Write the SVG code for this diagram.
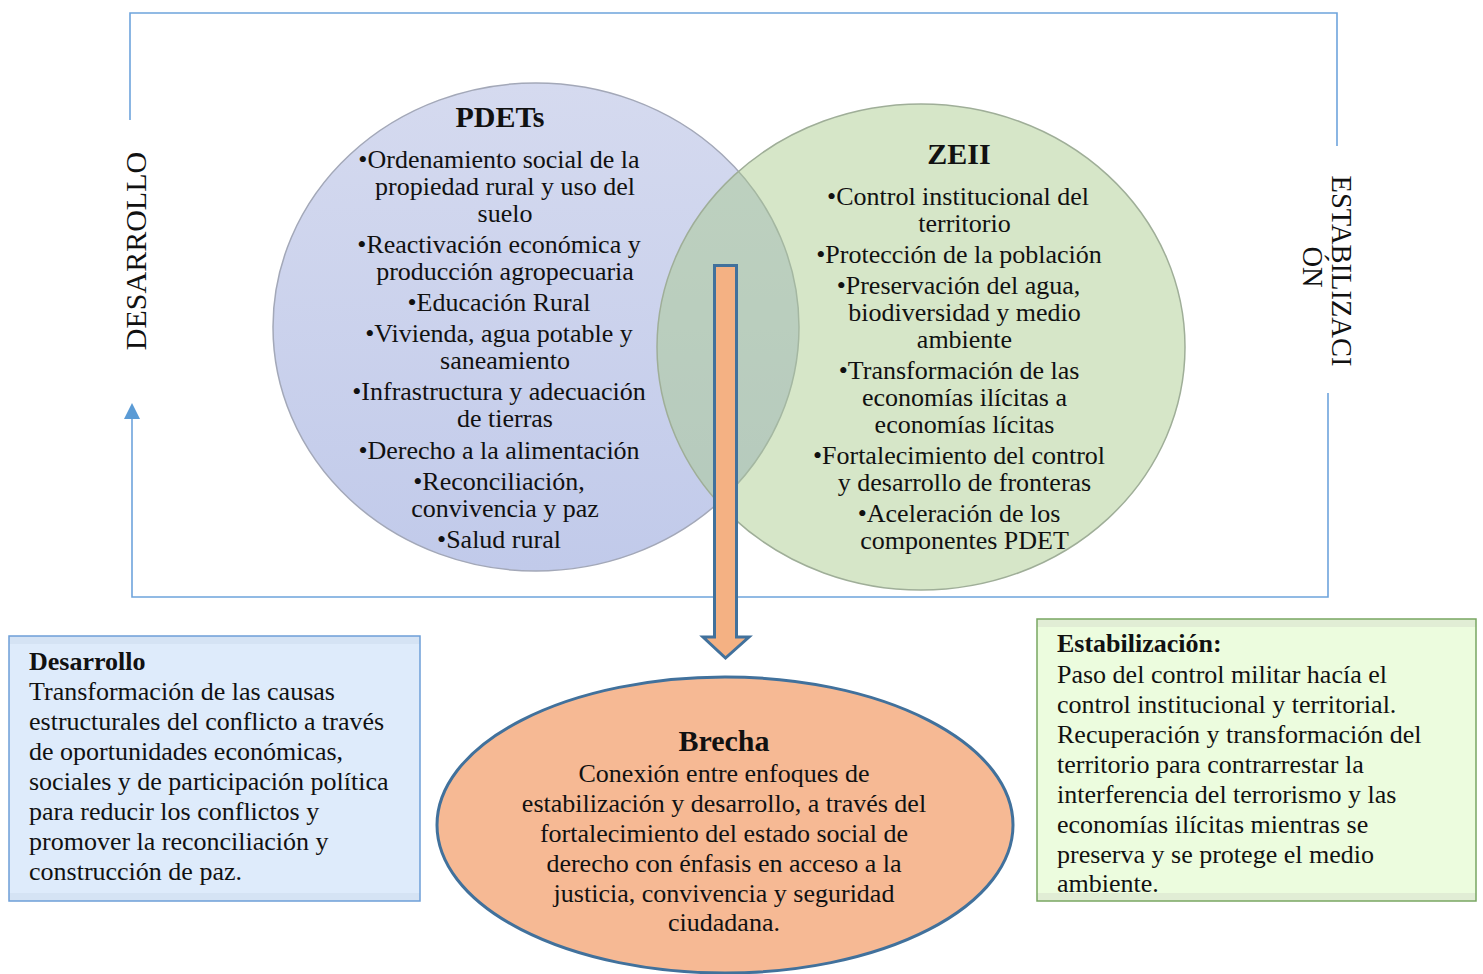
<svg xmlns="http://www.w3.org/2000/svg" width="1483" height="974" viewBox="0 0 1483 974">
<defs>
<linearGradient id="gBlue" x1="0" y1="0" x2="0" y2="1">
<stop offset="0" stop-color="#d5daef"/>
<stop offset="1" stop-color="#c1caea"/>
</linearGradient>
<marker id="arrUp" viewBox="0 0 16 16" markerWidth="16" markerHeight="16" refX="0" refY="8" orient="auto" markerUnits="userSpaceOnUse">
<path d="M0,0 L16,8 L0,16 Z" fill="#5b9bd5"/>
</marker>
<style>
.t{font-family:"Liberation Serif","Times New Roman",serif;font-size:26px;fill:#111;}
.c{text-anchor:middle;}
.b{font-weight:bold;}
.h{font-family:"Liberation Serif","Times New Roman",serif;font-size:30px;font-weight:bold;fill:#111;text-anchor:middle;}
.side{font-family:"Liberation Serif","Times New Roman",serif;fill:#111;text-anchor:middle;}
.frame{fill:none;stroke:#6ea4dc;stroke-width:1.6;}
</style>
</defs>
<rect width="1483" height="974" fill="#ffffff"/>

<g id="connectors">
<path class="frame" d="M130,120 L130,13 L1337,13 L1337,146"/>
<path class="frame" d="M1328,393 L1328,597 L132,597 L132,419" marker-end="url(#arrUp)"/>
</g>

<g id="label-desarrollo">
<text class="side" font-size="30" transform="translate(146,251) rotate(-90)">DESARROLLO</text>
</g>
<g id="label-estabilizacion">
<text class="side" font-size="28.5" transform="translate(1332,271) rotate(90)">ESTABILIZACI</text>
<text class="side" font-size="28.5" transform="translate(1303,267) rotate(90)">ÓN</text>
</g>

<g id="pdets">
<ellipse cx="536" cy="327" rx="263" ry="244" fill="url(#gBlue)" stroke="#a3a8b8" stroke-width="1.5"/>
</g>
<g id="zeii">
<ellipse cx="921" cy="347" rx="264" ry="243" fill="#a6c987" fill-opacity="0.46" stroke="#9fae98" stroke-width="1.5"/>
</g>

<g id="pdets-text">
<text class="h" x="500" y="127">PDETs</text>
<text class="t c" x="499" y="168">•Ordenamiento social de la</text>
<text class="t c" x="505" y="195">propiedad rural y uso del</text>
<text class="t c" x="505" y="222">suelo</text>
<text class="t c" x="499" y="253">•Reactivación económica y</text>
<text class="t c" x="505" y="280">producción agropecuaria</text>
<text class="t c" x="499" y="311">•Educación Rural</text>
<text class="t c" x="499" y="342">•Vivienda, agua potable y</text>
<text class="t c" x="505" y="369">saneamiento</text>
<text class="t c" x="499" y="400">•Infrastructura y adecuación</text>
<text class="t c" x="505" y="427">de tierras</text>
<text class="t c" x="499" y="459">•Derecho a la alimentación</text>
<text class="t c" x="499" y="490">•Reconciliación,</text>
<text class="t c" x="505" y="517">convivencia y paz</text>
<text class="t c" x="499" y="548">•Salud rural</text>
</g>

<g id="zeii-text">
<text class="h" x="959" y="164">ZEII</text>
<text class="t c" x="958" y="205">•Control institucional del</text>
<text class="t c" x="964.5" y="232">territorio</text>
<text class="t c" x="959" y="263">•Protección de la población</text>
<text class="t c" x="958.5" y="294">•Preservación del agua,</text>
<text class="t c" x="964.5" y="321">biodiversidad y medio</text>
<text class="t c" x="964.5" y="348">ambiente</text>
<text class="t c" x="959" y="379">•Transformación de las</text>
<text class="t c" x="964.5" y="406">economías ilícitas a</text>
<text class="t c" x="964.5" y="433">economías lícitas</text>
<text class="t c" x="959" y="464">•Fortalecimiento del control</text>
<text class="t c" x="964.5" y="491">y desarrollo de fronteras</text>
<text class="t c" x="959" y="522">•Aceleración de los</text>
<text class="t c" x="964.5" y="549">componentes PDET</text>
</g>

<g id="arrow-down">
<path d="M714.5,265.5 L736.5,265.5 L736.5,637 L749,637 L725.5,658 L703,637 L714.5,637 Z" fill="#f4b183" stroke="#41719c" stroke-width="3" stroke-linejoin="miter"/>
</g>

<g id="brecha">
<ellipse cx="725" cy="825" rx="288" ry="148" fill="#f6b994" stroke="#41719c" stroke-width="3"/>
<text class="h" x="724" y="751">Brecha</text>
<text class="t c" x="724" y="782">Conexión entre enfoques de</text>
<text class="t c" x="724" y="812">estabilización y desarrollo, a través del</text>
<text class="t c" x="724" y="842">fortalecimiento del estado social de</text>
<text class="t c" x="724" y="872">derecho con énfasis en acceso a la</text>
<text class="t c" x="724" y="902">justicia, convivencia y seguridad</text>
<text class="t c" x="724" y="931">ciudadana.</text>
</g>

<g id="desarrollo-box">
<rect x="9" y="636" width="411" height="265" fill="#deebfb"/>
<rect x="9" y="636" width="411" height="8" fill="#d5e3f4"/>
<rect x="9" y="893" width="411" height="8" fill="#d5e3f4"/>
<rect x="9" y="636" width="411" height="265" fill="none" stroke="#6d9fd8" stroke-width="1.5"/>
<text class="t b" x="29" y="670">Desarrollo</text>
<text class="t" x="29" y="700">Transformación de las causas</text>
<text class="t" x="29" y="730">estructurales del conflicto a través</text>
<text class="t" x="29" y="760">de oportunidades económicas,</text>
<text class="t" x="29" y="790">sociales y de participación política</text>
<text class="t" x="29" y="820">para reducir los conflictos y</text>
<text class="t" x="29" y="850">promover la reconciliación y</text>
<text class="t" x="29" y="880">construcción de paz.</text>
</g>

<g id="estabilizacion-box">
<rect x="1037" y="619" width="439" height="282" fill="#ecfcde"/>
<rect x="1037" y="619" width="439" height="8" fill="#e1edd5"/>
<rect x="1037" y="893" width="439" height="8" fill="#e1edd5"/>
<rect x="1037" y="619" width="439" height="282" fill="none" stroke="#78a662" stroke-width="1.5"/>
<text class="t b" x="1057" y="652">Estabilización:</text>
<text class="t" x="1057" y="683">Paso del control militar hacía el</text>
<text class="t" x="1057" y="713">control institucional y territorial.</text>
<text class="t" x="1057" y="743">Recuperación y transformación del</text>
<text class="t" x="1057" y="773">territorio para contrarrestar la</text>
<text class="t" x="1057" y="803">interferencia del terrorismo y las</text>
<text class="t" x="1057" y="833">economías ilícitas mientras se</text>
<text class="t" x="1057" y="863">preserva y se protege el medio</text>
<text class="t" x="1057" y="892">ambiente.</text>
</g>
</svg>
